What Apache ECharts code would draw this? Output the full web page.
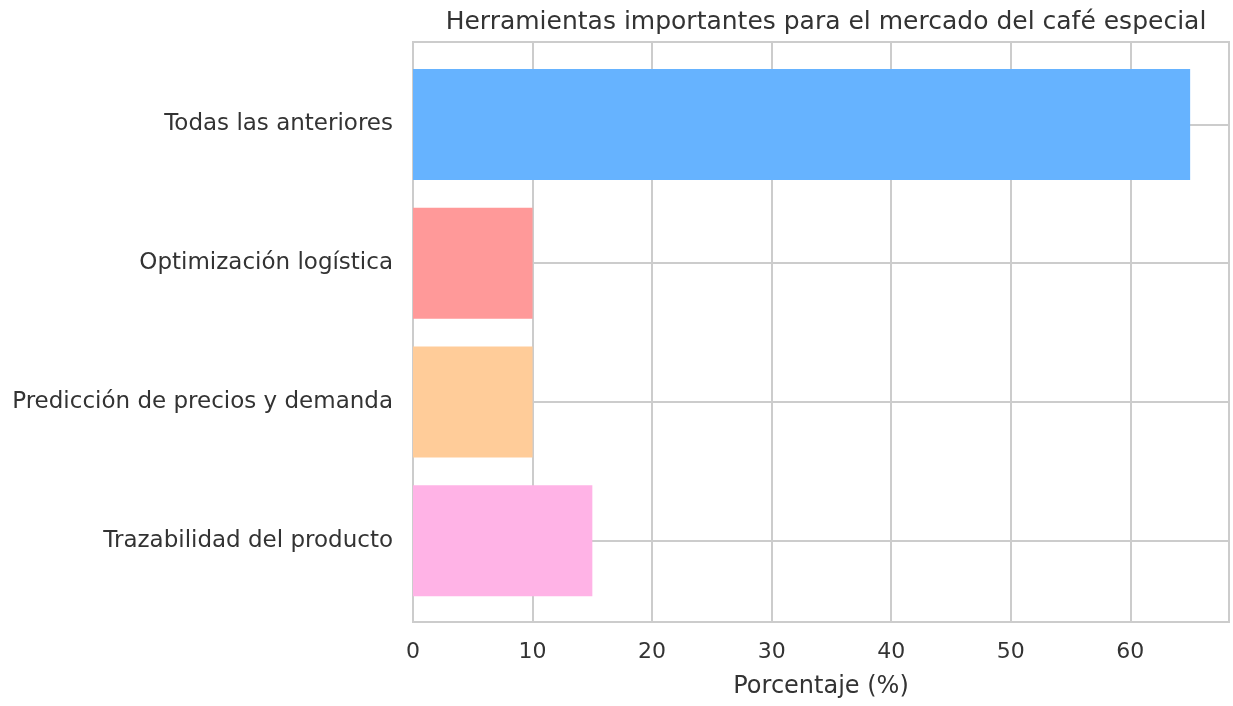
<!DOCTYPE html>
<html>
<head>
<meta charset="utf-8">
<script src="https://cdn.jsdelivr.net/npm/echarts@6/dist/echarts.min.js"></script>
<style>html,body{margin:0;padding:0;background:#fff}#chart{width:1233px;height:706px}</style>
</head>
<body>
<div id="chart"></div>
<script>
const categories = ['Trazabilidad del producto', 'Predicción de precios y demanda', 'Optimización logística', 'Todas las anteriores'];
const values = [15, 10, 10, 65];
const barColors = ['#ffb3e6', '#ffcc99', '#ff9999', '#66b3ff'];
const xTicks = [0, 10, 20, 30, 40, 50, 60];

const FONT = 'DejaVu Sans';
const TXT = '#333333';
const GRIDC = '#cccccc';
const xMax = 68.25;

const chart = echarts.init(document.getElementById('chart'), null, {renderer: 'canvas'});
chart.setOption({
  animation: false,
  backgroundColor: '#ffffff',
  title: {
    text: 'Herramientas importantes para el mercado del café especial',
    left: 821, top: 5, textAlign: 'center',
    textStyle: {fontFamily: FONT, fontSize: 25, fontWeight: 'normal', color: TXT}
  },
  grid: [
    {left: 413, right: 4, top: 42, bottom: 84, show: true, borderColor: GRIDC, borderWidth: 2, backgroundColor: 'transparent', containLabel: false},
    {left: 413, right: 4, top: 55, bottom: 96, containLabel: false}
  ],
  xAxis: [
    {
      type: 'value', gridIndex: 0, min: 0, max: xMax, interval: 10,
      name: 'Porcentaje (%)', nameLocation: 'middle', nameGap: 53,
      nameTextStyle: {fontFamily: FONT, fontSize: 24, color: TXT},
      axisLine: {show: false}, axisTick: {show: false},
      axisLabel: {fontFamily: FONT, fontSize: 22, color: TXT, margin: 19,
        showMaxLabel: false,
        formatter: v => xTicks.includes(v) ? String(v) : ''},
      splitLine: {show: true, lineStyle: {color: GRIDC, width: 2}}
    },
    {
      type: 'value', gridIndex: 1, min: 0, max: xMax, interval: 10,
      show: false, splitLine: {show: false}
    }
  ],
  yAxis: [
    {type: 'value', gridIndex: 0, show: false, splitLine: {show: false}},
    {
      type: 'category', gridIndex: 1, data: categories,
      axisLine: {show: false}, axisTick: {show: false},
      axisLabel: {fontFamily: FONT, fontSize: 23, color: TXT, margin: 20, padding: [7, 0, 0, 0]},
      splitLine: {show: false}
    }
  ],
  series: [{
    type: 'bar', xAxisIndex: 1, yAxisIndex: 1, z: 3,
    barCategoryGap: '20%',
    data: values.map((v, i) => ({value: v, itemStyle: {color: barColors[i]}})),
    markLine: {
      silent: true, z: 1, symbol: ['none', 'none'], label: {show: false},
      lineStyle: {color: GRIDC, width: 2, type: 'solid'},
      data: categories.map(c => ({yAxis: c}))
    }
  }]
});
</script>
</body>
</html>
